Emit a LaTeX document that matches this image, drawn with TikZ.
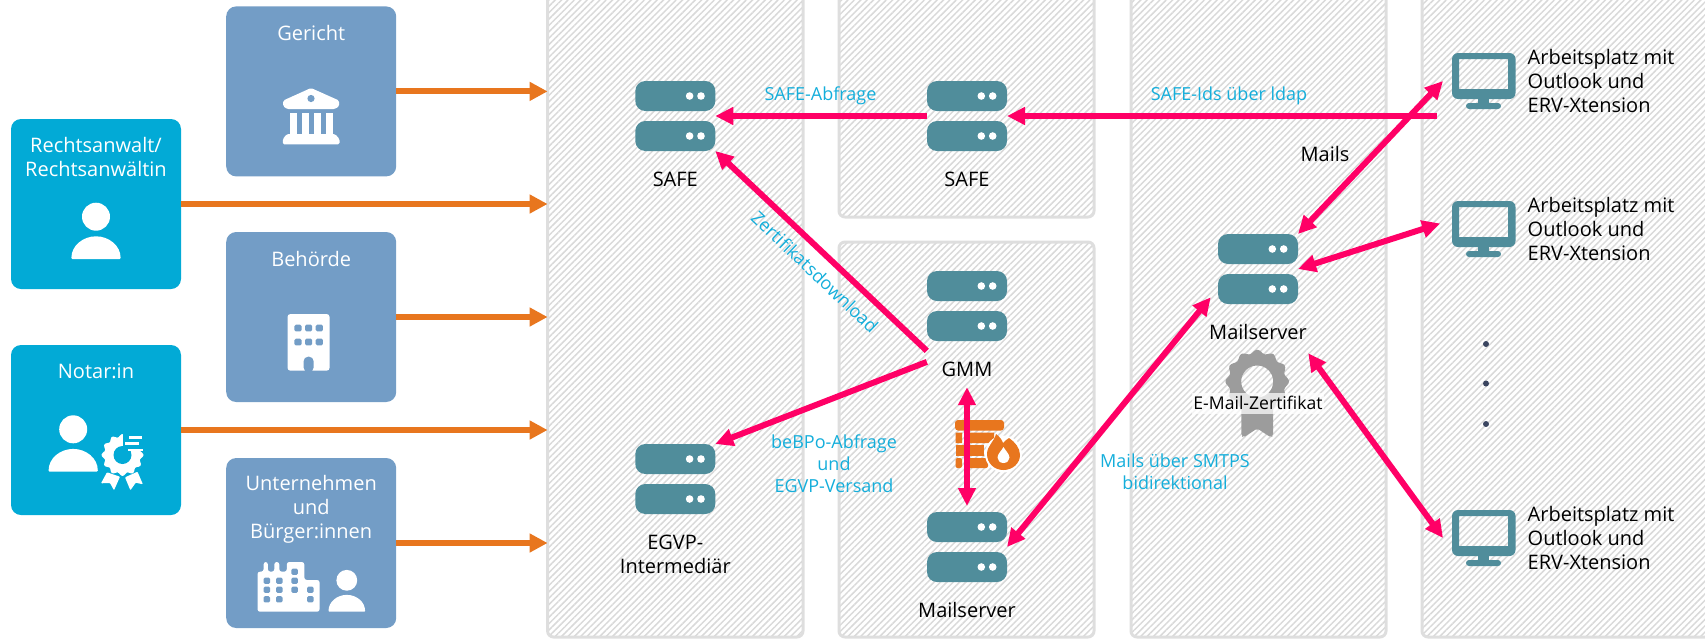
\documentclass[tikz,border=0pt]{standalone}
\usepackage{fontspec}
\setmainfont{Open Sans}
\usetikzlibrary{arrows.meta,patterns.meta}
\definecolor{cblue}{HTML}{02AAD6}
\definecolor{csteel}{HTML}{739DC6}
\definecolor{cteal}{HTML}{508D9B}
\definecolor{corange}{HTML}{E8761E}
\definecolor{cpink}{HTML}{FF0066}
\definecolor{ccyan}{HTML}{14AEDB}
\definecolor{chatch}{HTML}{D9D9D9}
\definecolor{cborder}{HTML}{DEDEDE}
\definecolor{ccert}{HTML}{9C9C9C}
\definecolor{cdots}{HTML}{3A4560}
\tikzset{
  x=1pt,y=-1pt,
  panel/.style={draw=cborder,line width=3pt,rounded corners=6pt,inner sep=0pt,outer sep=0pt,
    pattern={Lines[angle=45,distance=4.5pt,line width=1.5pt]},pattern color=chatch},
  box/.style={rounded corners=10pt,inner sep=0pt,outer sep=0pt,minimum width=170pt,minimum height=170pt},
  actor/.style={box,fill=cblue},
  org/.style={box,fill=csteel},
  boxtext/.style={text=white,align=center,font=\fontsize{20}{24}\selectfont,inner sep=0pt},
  lbl/.style={text=black,align=center,font=\fontsize{20}{24}\selectfont,inner sep=0pt},
  lblleft/.style={text=black,align=left,anchor=west,font=\fontsize{20}{24}\selectfont,inner sep=0pt},
  flowlbl/.style={text=ccyan,align=center,font=\fontsize{18}{21.7}\selectfont,inner sep=0pt},
  srv/.style={inner sep=0pt,outer sep=0pt,minimum width=80pt,minimum height=70pt},
  mon/.style={inner sep=0pt,outer sep=0pt,minimum width=73pt,minimum height=56pt},
  feed/.style={draw=corange,line width=6pt,-{Triangle[length=18pt,width=18pt]},color=corange},
  flow/.style={draw=cpink,line width=6pt,-{Triangle[length=18pt,width=17pt]},color=cpink},
  flowboth/.style={flow,{Triangle[length=18pt,width=17pt]}-{Triangle[length=18pt,width=17pt]}},
  servericon/.pic={
    \fill[cteal,rounded corners=10pt] (-40,-35) rectangle (40,-5);
    \fill[cteal,rounded corners=10pt] (-40,5) rectangle (40,35);
    \fill[white] (14.3,-20) circle[radius=3.8pt] (25.7,-20) circle[radius=3.8pt]
                 (14.3,20) circle[radius=3.8pt] (25.7,20) circle[radius=3.8pt];
  },
  monitoricon/.pic={
    \fill[cteal,even odd rule] [rounded corners=6pt] (-27.5,-28) rectangle (36,18)
       [sharp corners] (-20.5,-22) rectangle (28.5,8);
    \fill[cteal] (-1.5,17) rectangle (9.5,23);
    \fill[cteal,rounded corners=3pt] (-13.5,22) rectangle (21.5,28);
  },
  personicon/.pic={
    \fill[white] (0,0) circle[radius=14pt];
    \fill[white] (-24.6,41) .. controls (-24.6,29) and (-13,19.6) .. (0,19.6)
       .. controls (13,19.6) and (24.6,29) .. (24.6,41) -- (24.6,41.3) -- (23.6,42.3) -- (-23.6,42.3) -- (-24.6,41.3) -- cycle;
  }
}
\begin{document}
\begin{tikzpicture}
\useasboundingbox (0,0) rectangle (1705,638);
\clip (0,0) rectangle (1705,638);
% panels
\node[panel,minimum width=255.4pt,minimum height=680pt] (p1) at (675.3,297) {};
\node[panel,minimum width=255pt,minimum height=257pt] (p2a) at (966.5,88.5) {};
\node[panel,minimum width=255pt,minimum height=395pt] (p2b) at (966.5,439.5) {};
\node[panel,minimum width=255pt,minimum height=680pt] (p3) at (1258.5,297) {};
\node[panel,minimum width=320pt,minimum height=680pt] (p4) at (1582,297) {};
% boxes
\node[org] (gericht) at (311.2,91.4) {};
\node[org] (behoerde) at (311.2,317) {};
\node[org] (firma) at (311.2,543) {};
\node[actor] (anwalt) at (96,204) {};
\node[actor] (notar) at (96,430) {};
\node[boxtext] (t1) at (311.2,32.7) {Gericht};
\node[boxtext] (t2) at (311.2,258.7) {Behörde};
\node[boxtext] (t3) at (311.2,509) {Unternehmen\\und\\Bürger:innen};
\node[boxtext] (t4) at (96,157) {Rechtsanwalt/\\Rechtsanwältin};
\node[boxtext] (t5) at (96,371.7) {Notar:in};
% court icon
\fill[white,rounded corners=1.5pt] (311,88) -- (339,100.5) -- (339.3,106) -- (335,109) -- (287,109) -- (283,106) -- (283.3,100.5) -- cycle;
\fill[csteel] (311,98.5) circle[radius=3.6pt];
\foreach \a/\b in {290/297,302/309,314/321,326/333} \fill[white] (\a,112.7) rectangle (\b,134);
\fill[white,rounded corners=1.5pt] (287,134) -- (335,134) -- (339.5,139) -- (339.5,144.3) -- (282.8,144.3) -- (282.8,139) -- cycle;
% office icon
\fill[white,rounded corners=3pt] (287.5,314) rectangle (329.6,370.7);
\foreach \c in {298,308.6,319.3} \foreach \r in {328,342}
  \fill[csteel,rounded corners=1.5pt] (\c-3.6,\r-3.4) rectangle (\c+3.6,\r+3.4);
\fill[csteel,rounded corners=4.5pt] (303.6,372) -- (303.6,356.7) -- (313.6,356.7) -- (313.6,372) -- cycle;
% person
\pic at (96,216.7) {personicon};
\pic at (73.2,429.3) {personicon};
\pic[scale=.743] at (346.8,580.3) {personicon};
% seal
\begin{scope}[shift={(122.5,455)}]
\fill[white] plot[domain=0:359,samples=72] ({(19.5+1.5*cos(12*\x))*cos(\x)},{(19.5+1.5*cos(12*\x))*sin(\x)}) -- cycle;
\end{scope}
\fill[cblue] (122.5,430) rectangle (146,450.5);
\fill[cblue] (122.5,455) circle[radius=9pt];
\fill[white] (128.5,436) rectangle (142,438.6);
\fill[white] (125,442.4) rectangle (138.5,445);
\fill[white] (127.5,448.7) rectangle (143,451.3);
\fill[white,rounded corners=.8pt] (107,472.3) -- (101,483.3) -- (110,483) -- (114,490.3) -- (120,476.7) -- cycle;
\fill[white,rounded corners=.8pt] (137.5,471.7) -- (142.9,484.3) -- (135.7,482.7) -- (130.4,490.3) -- (125,477.3) -- cycle;
% company icon
\fill[white,rounded corners=2.5pt] (257.5,611.7) -- (257.5,571.7) -- (263.6,571.7) -- (263.6,562) -- (267.9,562) -- (267.9,571.7) -- (274.3,571.7) -- (274.3,562) -- (279.3,562) -- (279.3,571.7) -- (286.8,571.7) -- (286.8,562) -- (304.3,562) -- (304.3,580) -- (319.6,580) -- (319.6,611.7) -- cycle;
\foreach \c/\r in {266.8/580.7,279.3/580.7,266.8/589.7,279.3/589.7,266.8/599.3,279.3/599.3,294.6/571.7,294.6/580.7,294.6/589.7,310.4/589.7,310.4/599.3}
  \fill[csteel,rounded corners=1.3pt] (\c-3.2,\r-3.1) rectangle (\c+3.2,\r+3.1);
% servers
\node[srv] (safeA) at (675.3,116) {}; \pic at (safeA) {servericon};
\node[srv] (safeB) at (967,116) {}; \pic at (safeB) {servericon};
\node[srv] (gmm) at (967,306) {}; \pic at (gmm) {servericon};
\node[srv] (egvp) at (675.3,479) {}; \pic at (egvp) {servericon};
\node[srv] (mailB) at (967,547) {}; \pic at (mailB) {servericon};
\node[srv] (mailR) at (1258,269) {}; \pic at (mailR) {servericon};
\node[lbl] (safeAl) at (675.3,179) {SAFE};
\node[lbl] (safeBl) at (967,179) {SAFE};
\node[lbl,minimum width=80pt,minimum height=36pt] (gmml) at (967,369) {GMM};
\node[lbl] (egvpl) at (675.3,554) {EGVP-\\Intermediär};
\node[lbl] (mailBl) at (967,610) {Mailserver};
\node[lbl,minimum width=100pt,minimum height=42pt] (mailRl) at (1258,332) {Mailserver};
% certificate
\begin{scope}[shift={(1257.2,381.5)}]
\fill[ccert,even odd rule] plot[domain=0:358,samples=90] ({(30+1.8*cos(12*\x))*cos(\x)},{(30+1.8*cos(12*\x))*sin(\x)}) -- cycle (0,0) circle[radius=16pt];
\end{scope}
\fill[ccert,rounded corners=2pt] (1241.4,405) -- (1273,405) -- (1273,436) -- (1271,437.5) -- (1257.2,428.5) -- (1243.5,437.5) -- (1241.4,436) -- cycle;
\node[lbl,font=\fontsize{17.6}{20}\selectfont,fill=white,fill opacity=.72,text opacity=1,inner xsep=1pt,inner ysep=1pt,minimum height=21pt] (certl) at (1258,403) {E-Mail-Zertifikat};
% firewall
\fill[corange,rounded corners=3pt] (955,420) rectangle (1004,430.5);
\fill[corange] (955.5,432.5) rectangle (962,443) (966,432.5) rectangle (994,443);
\fill[corange] (955.5,445) rectangle (984,456);
\fill[corange,rounded corners=2pt] (955.5,458) rectangle (962,468) (966,458) rectangle (988,468);
\fill[white] (1003.5,454) circle[radius=18.5pt];
\fill[corange] (1003.5,470) .. controls (994,470) and (987,463) .. (987,454) .. controls (987,446) and (994,442) .. (996,434) .. controls (1000,437) and (1002,440) .. (1003,443) .. controls (1005,441) and (1007,439) .. (1009,438) .. controls (1015,442) and (1020,448) .. (1020,455) .. controls (1020,463) and (1013,470) .. (1003.5,470) -- cycle;
\fill[white] (1003.5,463) .. controls (1000,463) and (997.5,460.5) .. (997.5,457.5) .. controls (997.5,454) and (1002,450) .. (1003.5,447) .. controls (1005,450) and (1009.5,454) .. (1009.5,457.5) .. controls (1009.5,460.5) and (1007,463) .. (1003.5,463) -- cycle;
% monitors
\node[mon] (mon1) at (1479.5,81) {}; \pic at (mon1) {monitoricon};
\node[mon] (mon2) at (1479.5,229) {}; \pic at (mon2) {monitoricon};
\node[mon] (mon3) at (1479.5,538) {}; \pic at (mon3) {monitoricon};
\node[lblleft] (mon1t) at (1527.5,81) {Arbeitsplatz mit\\Outlook und\\ERV-Xtension};
\node[lblleft] (mon2t) at (1527.5,229) {Arbeitsplatz mit\\Outlook und\\ERV-Xtension};
\node[lblleft] (mon3t) at (1527.5,538) {Arbeitsplatz mit\\Outlook und\\ERV-Xtension};
\fill[cdots] (1486,344) circle[radius=3pt] (1486,383.5) circle[radius=3pt] (1486,424) circle[radius=3pt];
% coordinates for free ends
\coordinate (ldapsrc) at (1437,116);
\coordinate (mailRin) at (1210.7,297.3);
% feeds
\draw[feed] (gericht.east) -- (gericht.east -| p1.west);
\draw[feed] (anwalt.east) -- (anwalt.east -| p1.west);
\draw[feed] (behoerde.east) -- (behoerde.east -| p1.west);
\draw[feed] (notar.east) -- (notar.east -| p1.west);
\draw[feed] (firma.east) -- (firma.east -| p1.west);
% flows
\draw[flow] (safeB.west) -- (safeA.east);
\draw[flow] (ldapsrc) -- (safeB.east);
\draw[flow] (gmml.north west) -- (safeA.south east);
\draw[flow] (gmml.170) -- (egvp.north east);
\draw[flowboth,shorten >=6pt] (gmml.south) -- (mailB.north);
\draw[flowboth] (mailB.east) -- (mailRin);
\draw[flowboth] (mailR.north east) -- (mon1.west);
\draw[flowboth,shorten >=3pt] (mailR.east) -- (mon2.170);
\draw[flowboth] (mailRl.south east) -- (mon3.west);
% labels
\node[flowlbl] (l1) at (820.5,96) {SAFE-Abfrage};
\node[flowlbl] (l2) at (1229,96) {SAFE-Ids über ldap};
\node[flowlbl,rotate=-43.6] (l3) at (815,272) {Zertifikatsdownload};
\node[flowlbl] (l4) at (834,463.5) {beBPo-Abfrage\\und\\EGVP-Versand};
\node[flowlbl] (l5) at (1175,471.7) {Mails über SMTPS\\bidirektional};
\node[lbl] (l6) at (1325,154) {Mails};
\end{tikzpicture}
\end{document}
